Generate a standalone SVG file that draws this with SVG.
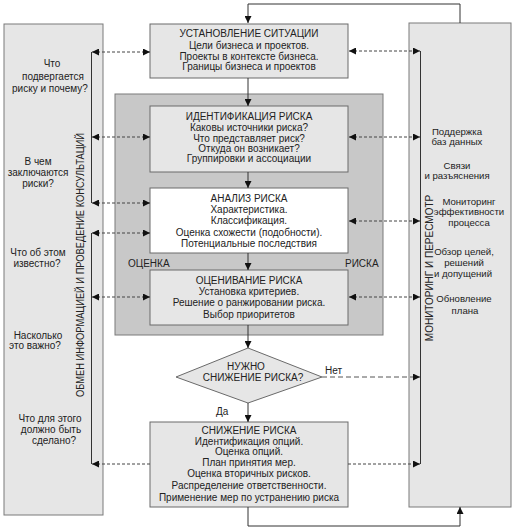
<svg xmlns="http://www.w3.org/2000/svg" width="513" height="529" viewBox="0 0 513 529">
<style>
text{font-family:"Liberation Sans",Arial,sans-serif;font-size:10px;fill:#222}
.c{text-anchor:middle}
.s{font-size:9.6px}
.panel{fill:#e6e6e6;stroke:#7a7a7a;stroke-width:1}
.box{fill:#e6e6e6;stroke:#6a6a6a;stroke-width:1}
.wbox{fill:#fff;stroke:#6a6a6a;stroke-width:1}
.dark{fill:#c8c8c8;stroke:#7a7a7a;stroke-width:1}
.ln{fill:none;stroke:#333;stroke-width:1}
.ds{fill:none;stroke:#444;stroke-width:1;stroke-dasharray:3,2}
.dl{fill:none;stroke:#555;stroke-width:1;stroke-dasharray:5,3}
</style>
<defs>
<marker id="ah" viewBox="0 0 10 10" refX="10" refY="5" markerWidth="8" markerHeight="7" markerUnits="userSpaceOnUse" orient="auto-start-reverse">
<path d="M0,0 L10,5 L0,10 z" fill="#111"/>
</marker>
</defs>

<g id="left-panel">
<rect class="panel" x="4" y="24" width="99" height="491"/>
<text class="c" transform="translate(84,265) rotate(-90)" textLength="264" lengthAdjust="spacingAndGlyphs">ОБМЕН ИНФОРМАЦИЕЙ И ПРОВЕДЕНИЕ КОНСУЛЬТАЦИЙ</text>
<text class="c" x="52" y="66.5">Что</text>
<text class="c" x="53" y="79.5">подвергается</text>
<text class="c" x="50" y="92">риску и почему?</text>
<text class="c" x="38" y="164.5">В чем</text>
<text class="c" x="38" y="176">заключаются</text>
<text class="c" x="38" y="186.5">риски?</text>
<text class="c" x="38" y="255.5">Что об этом</text>
<text class="c" x="37" y="266.5">известно?</text>
<text class="c" x="38" y="338.5">Насколько</text>
<text class="c" x="35" y="349">это важно?</text>
<text class="c" x="50" y="421.5">Что для этого</text>
<text class="c" x="51" y="433">должно быть</text>
<text class="c" x="54" y="443.5">сделано?</text>
</g>

<g id="right-panel">
<rect class="panel" x="409" y="23" width="102" height="484"/>
<text class="c" transform="translate(433,268) rotate(-90)">МОНИТОРИНГ И ПЕРЕСМОТР</text>
<text class="c s" x="457" y="135">Поддержка</text>
<text class="c s" x="457" y="145">баз данных</text>
<text class="c s" x="457" y="168.5">Связи</text>
<text class="c s" x="457" y="178.5">и разъяснения</text>
<text class="c s" x="469" y="204.5">Мониторинг</text>
<text class="c s" x="469" y="215">эффективности</text>
<text class="c s" x="469" y="225.5">процесса</text>
<text class="c s" x="464" y="255">Обзор целей,</text>
<text class="c s" x="464" y="265.5">решений</text>
<text class="c s" x="463" y="276.5">и допущений</text>
<text class="c s" x="464" y="301.5">Обновление</text>
<text class="c s" x="465" y="313.5">плана</text>
</g>

<g id="assessment-panel">
<rect class="dark" x="115" y="94" width="268" height="241"/>
<text x="128" y="266.5">ОЦЕНКА</text>
<text x="345" y="266.5">РИСКА</text>
</g>

<g id="context">
<rect class="box" x="150" y="24" width="198" height="54"/>
<text class="c" x="249" y="37">УСТАНОВЛЕНИЕ СИТУАЦИИ</text>
<text class="c" x="249" y="48.5">Цели бизнеса и проектов.</text>
<text class="c" x="249" y="59.5">Проекты в контексте бизнеса.</text>
<text class="c" x="249" y="70">Границы бизнеса и проектов</text>
</g>

<g id="identification">
<rect class="box" x="150" y="106" width="198" height="66"/>
<text class="c" x="249" y="120">ИДЕНТИФИКАЦИЯ РИСКА</text>
<text class="c" x="249" y="131">Каковы источники риска?</text>
<text class="c" x="249" y="141.5">Что представляет риск?</text>
<text class="c" x="249" y="151.5">Откуда он возникает?</text>
<text class="c" x="249" y="162">Группировки и ассоциации</text>
</g>

<g id="analysis">
<rect class="wbox" x="150" y="188" width="198" height="65"/>
<text class="c" x="249" y="201.5">АНАЛИЗ РИСКА</text>
<text class="c" x="249" y="212.5">Характеристика.</text>
<text class="c" x="249" y="223.5">Классификация.</text>
<text class="c" x="249" y="235.5">Оценка схожести (подобности).</text>
<text class="c" x="249" y="246.5">Потенциальные последствия</text>
</g>

<g id="evaluation">
<rect class="box" x="150" y="270" width="198" height="55"/>
<text class="c" x="249" y="283.5">ОЦЕНИВАНИЕ РИСКА</text>
<text class="c" x="249" y="294.5">Установка критериев.</text>
<text class="c" x="249" y="305.5">Решение о ранжировании риска.</text>
<text class="c" x="249" y="317.5">Выбор приоритетов</text>
</g>

<g id="decision">
<polygon points="248,348 322,377 248,403 176,377" fill="#e6e6e6" stroke="#6a6a6a" stroke-width="1"/>
<text class="c" x="246" y="370">НУЖНО</text>
<text class="c" x="253" y="381">СНИЖЕНИЕ РИСКА?</text>
</g>

<g id="treatment">
<rect class="box" x="150" y="422" width="198" height="85"/>
<text class="c" x="249" y="433.5">СНИЖЕНИЕ РИСКА</text>
<text class="c" x="249" y="444.5">Идентификация опций.</text>
<text class="c" x="249" y="454.5">Оценка опций.</text>
<text class="c" x="249" y="465.5">План принятия мер.</text>
<text class="c" x="249" y="477">Оценка вторичных рисков.</text>
<text class="c" x="249" y="488.5">Распределение ответственности.</text>
<text class="c" x="249" y="500.5">Применение мер по устранению риска</text>
</g>

<g id="connectors">
<polyline class="ln" points="460,23 460,4 248,4 248,23" marker-end="url(#ah)"/>
<line class="ln" x1="248" y1="78" x2="248" y2="106" marker-end="url(#ah)"/>
<line class="ln" x1="248" y1="172" x2="248" y2="188" marker-end="url(#ah)"/>
<line class="ln" x1="248" y1="253" x2="248" y2="270" marker-end="url(#ah)"/>
<line class="ln" x1="248" y1="325" x2="248" y2="348" marker-end="url(#ah)"/>
<line class="ln" x1="248" y1="403" x2="248" y2="422" marker-end="url(#ah)"/>
<polyline class="ln" points="248,507 248,526 460,526 460,507" marker-end="url(#ah)"/>

<line class="ln" x1="91.5" y1="52" x2="91.5" y2="203"/>
<line class="ln" x1="91.5" y1="233" x2="91.5" y2="464"/>
<line class="ln" x1="420.5" y1="51" x2="420.5" y2="464"/>

<line class="ds" x1="92" y1="52" x2="150" y2="52" marker-start="url(#ah)" marker-end="url(#ah)"/>
<line class="ds" x1="92" y1="137" x2="150" y2="137" marker-start="url(#ah)" marker-end="url(#ah)"/>
<line class="ds" x1="92" y1="203" x2="150" y2="203" marker-start="url(#ah)" marker-end="url(#ah)"/>
<line class="ds" x1="92" y1="233" x2="150" y2="233" marker-start="url(#ah)" marker-end="url(#ah)"/>
<line class="ds" x1="92" y1="297" x2="150" y2="297" marker-start="url(#ah)" marker-end="url(#ah)"/>
<line class="ds" x1="150" y1="464" x2="92" y2="464" marker-end="url(#ah)"/>

<line class="ds" x1="349" y1="51" x2="420" y2="51" marker-start="url(#ah)" marker-end="url(#ah)"/>
<line class="ds" x1="349" y1="137" x2="420" y2="137" marker-start="url(#ah)" marker-end="url(#ah)"/>
<line class="ds" x1="349" y1="221" x2="420" y2="221" marker-start="url(#ah)" marker-end="url(#ah)"/>
<line class="ds" x1="349" y1="297" x2="420" y2="297" marker-start="url(#ah)" marker-end="url(#ah)"/>
<line class="dl" x1="322" y1="377" x2="420" y2="377" marker-end="url(#ah)"/>
<line class="ds" x1="348" y1="464" x2="420" y2="464" marker-end="url(#ah)"/>
<text x="325" y="373.5">Нет</text>
<text x="216" y="415">Да</text>
</g>
</svg>
